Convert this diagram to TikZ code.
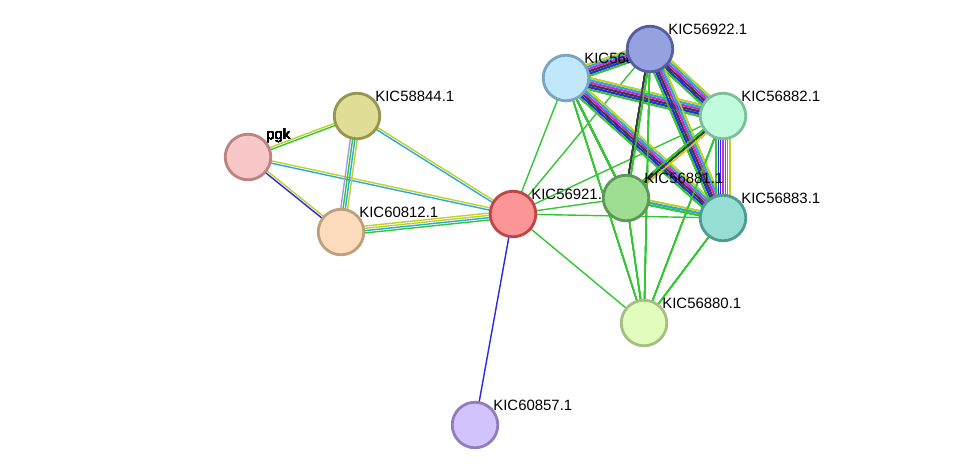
\documentclass[tikz,border=0pt]{standalone}
\usepackage{fontspec}
\setmainfont{Liberation Sans}
\usetikzlibrary{calc}
\definecolor{sgreen}{RGB}{51,199,51}
\definecolor{sblue}{RGB}{40,40,230}
\definecolor{scyan}{RGB}{40,170,220}
\definecolor{syellow}{RGB}{190,210,40}
\definecolor{smag}{RGB}{210,40,210}
\definecolor{sblack}{RGB}{60,60,60}
\definecolor{slav}{RGB}{160,150,240}
\tikzset{
  link/.style={line width=0.8pt},
  prot/.style={circle,minimum size=36pt*0.72,line width=1.6pt,inner sep=0pt},
  lbl/.style={font=\fontsize{8.5}{10}\selectfont,anchor=south west,inner sep=0pt}
}
\newcommand{\plink}[3]{%
  \foreach \c [count=\i] in {#3} {\xdef\nlines{\i}}%
  \foreach \c [count=\i] in {#3} {%
    \pgfmathsetmacro\off{(\i-(\nlines+1)/2)*1.3}%
    \draw[link,\c] ($(#1)!\off pt!90:(#2)$) -- ($(#2)!\off pt!-90:(#1)$);}}
\begin{document}
\begin{tikzpicture}[x=0.02cm,y=-0.02cm]
  \useasboundingbox (0,0) rectangle (976,471);
  % positions
  \coordinate (pgk) at (248,157);
  \coordinate (k58844) at (357,116);
  \coordinate (k60812) at (341,232);
  \coordinate (k56921) at (513,214);
  \coordinate (k56922) at (650,49);
  \coordinate (k56884) at (566,78);
  \coordinate (k56882) at (723,116);
  \coordinate (k56881) at (626,198);
  \coordinate (k56883) at (723,218);
  \coordinate (k56880) at (644,323);
  \coordinate (k60857) at (475,425);
  % edges
  \plink{pgk}{k58844}{sgreen,syellow}
  \plink{pgk}{k60812}{sblue,syellow}
  \plink{pgk}{k56921}{scyan,syellow}
  \plink{k58844}{k60812}{slav,sgreen,scyan,syellow}
  \plink{k58844}{k56921}{scyan,syellow}
  \plink{k60812}{k56921}{sgreen,scyan,syellow,syellow}
  \plink{k56921}{k60857}{sblue}
  \foreach \t in {k56922,k56884,k56881,k56883,k56880,k56882}
    \plink{k56921}{\t}{sgreen}
  \plink{k56884}{k56922}{sgreen,sblue,sblack,smag,scyan,syellow}
  \plink{k56884}{k56882}{sgreen,sblue,sblack,smag,scyan,syellow}
  \plink{k56884}{k56883}{sgreen,sblue,sblack,smag,scyan,syellow}
  \plink{k56922}{k56882}{sgreen,sblue,sblack,smag,scyan,syellow}
  \plink{k56922}{k56883}{sgreen,sblue,sblack,smag,scyan,syellow}
  \plink{k56882}{k56883}{sgreen,sblue,sblue,smag,smag,scyan,syellow}
  \plink{k56922}{k56881}{sblack,sgreen}
  \plink{k56882}{k56881}{sgreen,sblack,syellow}
  \plink{k56881}{k56883}{sgreen,scyan,syellow}
  \foreach \s in {k56884,k56922,k56882,k56883,k56881}
    \plink{\s}{k56880}{sgreen}
  \plink{k56884}{k56881}{sgreen}
  % labels
  \node[lbl] (lpgk) at ($(pgk)+(18,-14)$) {pgk};
  \node[lbl] (l58844) at ($(k58844)+(18,-14)$) {KIC58844.1};
  \node[lbl] (l60812) at ($(k60812)+(18,-14)$) {KIC60812.1};
  \node[lbl] (l56921) at ($(k56921)+(18,-14)$) {KIC56921.1};
  \node[lbl] (l56922) at ($(k56922)+(18,-14)$) {KIC56922.1};
  \node[lbl] (l56884) at ($(k56884)+(18,-14)$) {KIC56884.1};
  \node[lbl] (l56882) at ($(k56882)+(18,-14)$) {KIC56882.1};
  \node[lbl] (l56881) at ($(k56881)+(18,-14)$) {KIC56881.1};
  \node[lbl] (l56883) at ($(k56883)+(18,-14)$) {KIC56883.1};
  \node[lbl] (l56880) at ($(k56880)+(18,-14)$) {KIC56880.1};
  \node[lbl] (l60857) at ($(k60857)+(18,-14)$) {KIC60857.1};
  % nodes
  \node[prot,fill={rgb,255:red,248;green,200;blue,200},draw={rgb,255:red,190;green,130;blue,130}] (npgk) at (pgk) {};
  \node[prot,fill={rgb,255:red,224;green,222;blue,150},draw={rgb,255:red,150;green,150;blue,80}] (n58844) at (k58844) {};
  \node[prot,fill={rgb,255:red,253;green,220;blue,190},draw={rgb,255:red,190;green,160;blue,125}] (n60812) at (k60812) {};
  \node[prot,fill={rgb,255:red,252;green,150;blue,150},draw={rgb,255:red,190;green,70;blue,70}] (n56921) at (k56921) {};
  \node[prot,fill={rgb,255:red,192;green,232;blue,250},draw={rgb,255:red,120;green,165;blue,195}] (n56884) at (k56884) {};
  \node[prot,fill={rgb,255:red,150;green,162;blue,224},draw={rgb,255:red,85;green,95;blue,160}] (n56922) at (k56922) {};
  \node[prot,fill={rgb,255:red,192;green,252;blue,220},draw={rgb,255:red,125;green,190;blue,155}] (n56882) at (k56882) {};
  \node[prot,fill={rgb,255:red,158;green,222;blue,145},draw={rgb,255:red,95;green,150;blue,90}] (n56881) at (k56881) {};
  \node[prot,fill={rgb,255:red,150;green,222;blue,212},draw={rgb,255:red,80;green,155;blue,145}] (n56883) at (k56883) {};
  \node[prot,fill={rgb,255:red,226;green,252;blue,190},draw={rgb,255:red,165;green,190;blue,130}] (n56880) at (k56880) {};
  \node[prot,fill={rgb,255:red,210;green,195;blue,252},draw={rgb,255:red,145;green,125;blue,190}] (n60857) at (k60857) {};
\end{tikzpicture}
\end{document}
